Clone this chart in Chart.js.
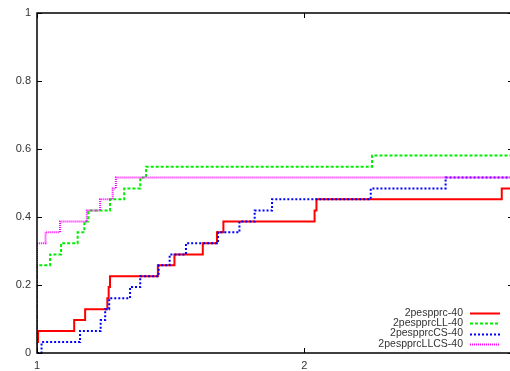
<!DOCTYPE html>
<html>
<head>
<meta charset="utf-8">
<script src="https://cdn.jsdelivr.net/npm/chart.js@4/dist/chart.umd.min.js"></script>
<style>
  html, body { margin: 0; padding: 0; background: #fff; overflow: hidden; }
  #wrap { width: 510px; height: 371px; overflow: hidden; }
</style>
</head>
<body>
<div id="wrap"><canvas id="stepChart" width="520" height="371"></canvas></div>
<script>
// performance profiles: x = ratio to best, y = fraction of problems solved
const names = ['2pespprc-40', '2pespprcLL-40', '2pespprcCS-40', '2pespprcLLCS-40'];
const redX = [1, 1, 1.004, 1.139, 1.18, 1.263, 1.268, 1.273, 1.452, 1.514, 1.62, 1.673, 1.697, 2.038, 2.045, 2.738];
const redY = [0, 0.032, 0.065, 0.097, 0.129, 0.161, 0.194, 0.226, 0.258, 0.290, 0.323, 0.355, 0.387, 0.419, 0.452, 0.484];
const greenX = [1, 1, 1.049, 1.09, 1.152, 1.177, 1.192, 1.273, 1.326, 1.386, 1.408, 2.253];
const greenY = [0, 0.258, 0.290, 0.323, 0.355, 0.387, 0.419, 0.452, 0.484, 0.516, 0.548, 0.581];
const blueX = [1, 1.017, 1.161, 1.238, 1.255, 1.27, 1.348, 1.386, 1.455, 1.496, 1.557, 1.677, 1.757, 1.814, 1.879, 2.248, 2.528];
const blueY = [0, 0.032, 0.065, 0.097, 0.129, 0.161, 0.194, 0.226, 0.258, 0.290, 0.323, 0.355, 0.387, 0.419, 0.452, 0.484, 0.516];
const pinkX = [1, 1, 1.032, 1.086, 1.186, 1.236, 1.283, 1.295];
const pinkY = [0, 0.323, 0.355, 0.387, 0.419, 0.452, 0.484, 0.516];
const xTicks = [1, 2];
const yTicks = [0, 0.2, 0.4, 0.6, 0.8, 1];
const xMax = 2.78;

function pts(xs, ys) {
  let d = xs.map((x, i) => ({x: x, y: ys[i]}));
  d.push({x: xMax, y: ys[ys.length - 1]});
  return d;
}

const styles = [
  {color: '#ff0000', width: 2, dash: []},
  {color: '#00ee00', width: 2, dash: [3, 2]},
  {color: '#0000ff', width: 2, dash: [2, 2]},
  {color: '#ff00ff', width: 2, dash: [1, 1]}
];
const series = [pts(redX, redY), pts(greenX, greenY), pts(blueX, blueY), pts(pinkX, pinkY)];

// gnuplot-like frame with inward ticks
const framePlugin = {
  id: 'frame',
  afterDatasetsDraw(chart) {
    const c = chart.ctx, a = chart.chartArea;
    const xs = chart.scales.x, ys = chart.scales.y;
    c.save();
    c.strokeStyle = '#000';
    c.lineWidth = 1;
    c.beginPath();
    yTicks.forEach(v => {
      const y = Math.round(ys.getPixelForValue(v)) + 0.5;
      c.moveTo(a.left, y); c.lineTo(a.left + 5, y);
      c.moveTo(a.right, y); c.lineTo(a.right - 5, y);
    });
    xTicks.forEach(v => {
      const x = Math.round(xs.getPixelForValue(v)) + 0.5;
      c.moveTo(x, a.bottom); c.lineTo(x, a.bottom - 5);
      c.moveTo(x, a.top); c.lineTo(x, a.top + 5);
    });
    c.stroke();
    c.lineWidth = 1.5;
    c.strokeRect(a.left, a.top, a.right - a.left, a.bottom - a.top);
    c.restore();
  }
};

// key in the lower right: title then line sample
const keyPlugin = {
  id: 'key',
  afterDraw(chart) {
    const c = chart.ctx;
    c.save();
    c.font = '10.5px "Liberation Sans", Arial, sans-serif';
    c.textAlign = 'right';
    c.textBaseline = 'middle';
    chart.data.datasets.forEach((ds, i) => {
      const y = 313 + i * 10.3;
      c.fillStyle = '#333';
      c.fillText(ds.label, 463, y);
      c.strokeStyle = ds.borderColor;
      c.lineWidth = ds.borderWidth;
      c.setLineDash(ds.borderDash);
      c.beginPath();
      c.moveTo(470, Math.round(y) + 0.5);
      c.lineTo(500, Math.round(y) + 0.5);
      c.stroke();
    });
    c.restore();
  }
};

const ctx = document.getElementById('stepChart').getContext('2d');
new Chart(ctx, {
  type: 'line',
  data: {
    datasets: series.map((d, i) => ({
      label: names[i],
      data: d,
      stepped: true,
      borderColor: styles[i].color,
      borderWidth: styles[i].width,
      borderDash: styles[i].dash,
      pointRadius: 0,
      fill: false,
      order: 4 - i
    }))
  },
  options: {
    responsive: false,
    animation: false,
    layout: {padding: {top: 13, right: 7, left: 0, bottom: 0}},
    plugins: {legend: {display: false}, tooltip: {enabled: false}},
    scales: {
      x: {
        type: 'linear',
        min: 1,
        max: xMax,
        afterBuildTicks: s => { s.ticks = xTicks.map(v => ({value: v})); },
        afterFit: s => { s.height = 18; },
        grid: {display: false, drawTicks: false},
        border: {display: false},
        ticks: {color: '#333', padding: 6, font: {family: 'Liberation Sans', size: 11}}
      },
      y: {
        min: 0,
        max: 1,
        afterBuildTicks: s => { s.ticks = yTicks.map(v => ({value: v})); },
        afterFit: s => { s.width = 37; },
        grid: {display: false, drawTicks: false},
        border: {display: false},
        ticks: {color: '#333', padding: 6, font: {family: 'Liberation Sans', size: 11},
          callback: v => String(v)}
      }
    }
  },
  plugins: [framePlugin, keyPlugin]
});
</script>
</body>
</html>
